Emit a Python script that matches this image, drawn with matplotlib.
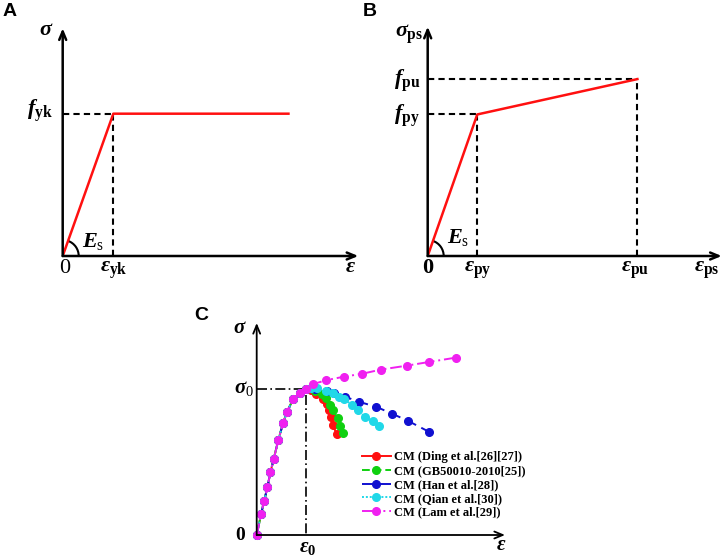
import matplotlib
matplotlib.use('Agg')
import numpy as np
import matplotlib.pyplot as plt
from matplotlib.patches import Arc

# panel A: ideal elastic-plastic steel (units of eps_yk, f_yk)
a_eps_yk = 1.0
a_f_yk = 1.0
a_eps_end = 4.46

# panel B: bilinear prestressing steel (units of eps_py, f_py)
b_eps_py = 1.0
b_f_py = 1.0
b_eps_pu = 4.23
b_f_pu = 1.25

# panel C: concrete constitutive models (units of eps_0, sigma_0)
rise_x = [0.0, 0.09, 0.15, 0.22, 0.28, 0.35, 0.44, 0.54, 0.62, 0.74, 0.88, 1.0]
rise_y = [0.0, 0.145, 0.23, 0.33, 0.43, 0.525, 0.65, 0.77, 0.845, 0.93, 0.977, 1.0]

ding_x = [1.1, 1.22, 1.36, 1.43, 1.47, 1.51, 1.56, 1.63]
ding_y = [0.995, 0.97, 0.935, 0.9, 0.86, 0.81, 0.755, 0.69]
gb_x = [1.2, 1.33, 1.41, 1.5, 1.56, 1.65, 1.71, 1.77]
gb_y = [0.99, 0.97, 0.94, 0.89, 0.86, 0.80, 0.75, 0.70]
han_x = [1.2, 1.43, 1.58, 1.8, 2.08, 2.44, 2.76, 3.08, 3.52]
han_y = [1.0, 0.99, 0.977, 0.95, 0.915, 0.88, 0.833, 0.785, 0.708]
qian_x = [1.1, 1.24, 1.42, 1.55, 1.68, 1.79, 1.94, 2.07, 2.21, 2.37, 2.5]
qian_y = [1.01, 1.01, 0.99, 0.975, 0.95, 0.93, 0.895, 0.855, 0.81, 0.78, 0.75]
lam_x = [1.14, 1.41, 1.79, 2.16, 2.53, 3.06, 3.51, 4.06]
lam_y = [1.034, 1.062, 1.087, 1.107, 1.135, 1.162, 1.187, 1.217]

labels = ['CM (Ding et al.[26][27])', 'CM (GB50010-2010[25])',
          'CM (Han et al.[28])', 'CM (Qian et al.[30])', 'CM (Lam et al.[29])']
colors = ['#ff1010', '#10d010', '#1010d0', '#20d8e8', '#f020f0']
styles = ['-', (0, (4, 2)), (0, (6, 3)), (0, (1, 1)), (0, (6, 2, 1, 2, 1, 2))]

plt.rcParams['mathtext.fontset'] = 'custom'
plt.rcParams['mathtext.rm'] = 'Liberation Serif'
plt.rcParams['mathtext.it'] = 'Liberation Serif:italic:bold'
plt.rcParams['mathtext.bf'] = 'Liberation Serif:bold'
plt.rcParams['font.family'] = ['Liberation Serif', 'DejaVu Sans']

W, H = 726, 558
fig = plt.figure(figsize=(W / 100, H / 100), dpi=100)


def make_axes(ox, oy, xend, ytop, xmax, ymax):
    # ox, oy: pixel origin; xend, ytop: pixel ends of arrows
    ax = fig.add_axes([ox / W, 1 - oy / H, (xend - ox) / W, (oy - ytop) / H])
    ax.set_xlim(0, xmax)
    ax.set_ylim(0, ymax)
    ax.axis('off')
    return ax


def arrows(ax, xmax, ymax, lw):
    kw = dict(arrowstyle='->,head_length=0.6,head_width=0.25', lw=lw, color='k',
              shrinkA=0, shrinkB=0)
    ax.annotate('', xy=(xmax, 0), xytext=(0, 0), arrowprops=kw, annotation_clip=False)
    ax.annotate('', xy=(0, ymax), xytext=(0, 0), arrowprops=kw, annotation_clip=False)


def angle_arc(ax, x, y, r_px, ux, uy):
    th = np.degrees(np.arctan2(y, x))
    ax.add_patch(Arc((0, 0), 2 * r_px / ux, 2 * r_px / uy, theta1=0, theta2=th,
                     color='k', lw=1.5, clip_on=False))


fs = 16
dash = dict(color='k', ls=(0, (3, 2)), lw=1.5)

# ---------- A ----------
ax = make_axes(62.7, 256, 358.3, 28.3, 5.84, 1.60)
arrows(ax, 5.84, 1.60, 1.8)
ax.plot([0, a_eps_yk], [a_f_yk, a_f_yk], **dash)
ax.plot([a_eps_yk, a_eps_yk], [0, a_f_yk], **dash)
ax.plot([0, a_eps_yk, a_eps_end], [0, a_f_yk, a_f_yk], color='#ff1010', lw=1.8)
angle_arc(ax, a_eps_yk, a_f_yk, 16, 50.6, 142)
ax.text(-0.32, 1.556, r'$\sigma$', fontsize=fs, ha='center', va='baseline')
ax.text(-0.19, 0.993, r'$f_{\mathbf{yk}}$', fontsize=fs, ha='right', va='baseline')
ax.text(0.03, -0.122, '0', fontsize=fs, ha='center', va='baseline')
ax.text(1.0, -0.11, r'$\varepsilon_{\mathbf{yk}}$', fontsize=fs, ha='center', va='baseline')
ax.text(5.68, -0.11, r'$\varepsilon$', fontsize=fs, ha='center', va='baseline')
ax.text(0.375, 0.065, r'$E_{\mathrm{s}}$', fontsize=fs, ha='left', va='baseline')

# ---------- B ----------
ax = make_axes(427.7, 256, 721.7, 26.7, 5.93, 1.62)
arrows(ax, 5.93, 1.62, 1.8)
ax.plot([0, b_eps_py], [b_f_py, b_f_py], **dash)
ax.plot([b_eps_py, b_eps_py], [0, b_f_py], **dash)
ax.plot([0, b_eps_pu], [b_f_pu, b_f_pu], **dash)
ax.plot([b_eps_pu, b_eps_pu], [0, b_f_pu], **dash)
ax.plot([0, b_eps_py, b_eps_pu], [0, b_f_py, b_f_pu], color='#ff1010', lw=1.8)
angle_arc(ax, b_eps_py, b_f_py, 16, 49.6, 141.7)
ax.text(-0.09, 1.548, r'$\sigma_{\mathbf{ps}}$', fontsize=fs, ha='right', va='baseline')
ax.text(-0.155, 1.207, r'$f_{\mathbf{pu}}$', fontsize=fs, ha='right', va='baseline')
ax.text(-0.155, 0.96, r'$f_{\mathbf{py}}$', fontsize=fs, ha='right', va='baseline')
ax.text(0.0, -0.122, '0', fontsize=fs, fontweight='bold', ha='center', va='baseline')
ax.text(1.0, -0.11, r'$\varepsilon_{\mathbf{py}}$', fontsize=fs, ha='center', va='baseline')
ax.text(4.18, -0.11, r'$\varepsilon_{\mathbf{pu}}$', fontsize=fs, ha='center', va='baseline')
ax.text(5.62, -0.11, r'$\varepsilon_{\mathbf{ps}}$', fontsize=fs, ha='center', va='baseline')
ax.text(0.395, 0.09, r'$E_{\mathrm{s}}$', fontsize=fs, ha='left', va='baseline')

# ---------- C ----------
ax = make_axes(256.7, 535, 505, 323, 5.07, 1.455)
arrows(ax, 5.07, 1.455, 1.3)
ax.plot([0, 1, 1], [1, 1, 0], color='k', lw=1.2, ls=(0, (6, 2, 1, 2)))
series = [(ding_x, ding_y), (gb_x, gb_y), (han_x, han_y), (qian_x, qian_y), (lam_x, lam_y)]
for (sx, sy), lab, c, ls in zip(series, labels, colors, styles):
    ax.plot(rise_x + sx, rise_y + sy, color=c, ls=ls, lw=1.4, marker='o', ms=5.5,
            mec=c, label=lab, clip_on=False)
ax.legend(loc='upper left', bbox_to_anchor=(2.15, 0.575), bbox_transform=ax.transData,
          frameon=False, borderpad=0, borderaxespad=0, handlelength=2.3,
          handletextpad=0.3, labelspacing=0.15,
          prop={'family': 'Liberation Serif', 'weight': 'bold', 'size': 9})
ax.text(-0.34, 1.384, r'$\sigma$', fontsize=15, ha='center', va='baseline')
ax.text(-0.05, 0.973, r'$\sigma_{0}$', fontsize=15, ha='right', va='baseline')
ax.text(-0.34, -0.034, '0', fontsize=14, fontweight='bold', ha='center', va='baseline')
ax.text(1.05, -0.115, r'$\varepsilon_{\mathbf{0}}$', fontsize=15, ha='center', va='baseline')
ax.text(5.0, -0.10, r'$\varepsilon$', fontsize=15, ha='center', va='baseline')

for lt, px, py in [('A', 10, 11.7), ('B', 370, 11.7), ('C', 201.7, 315)]:
    fig.text(px / W, 1 - py / H, lt, fontsize=14, fontweight='bold',
             family='Liberation Sans', ha='center', va='center')

fig.savefig('out.png', dpi=100)
